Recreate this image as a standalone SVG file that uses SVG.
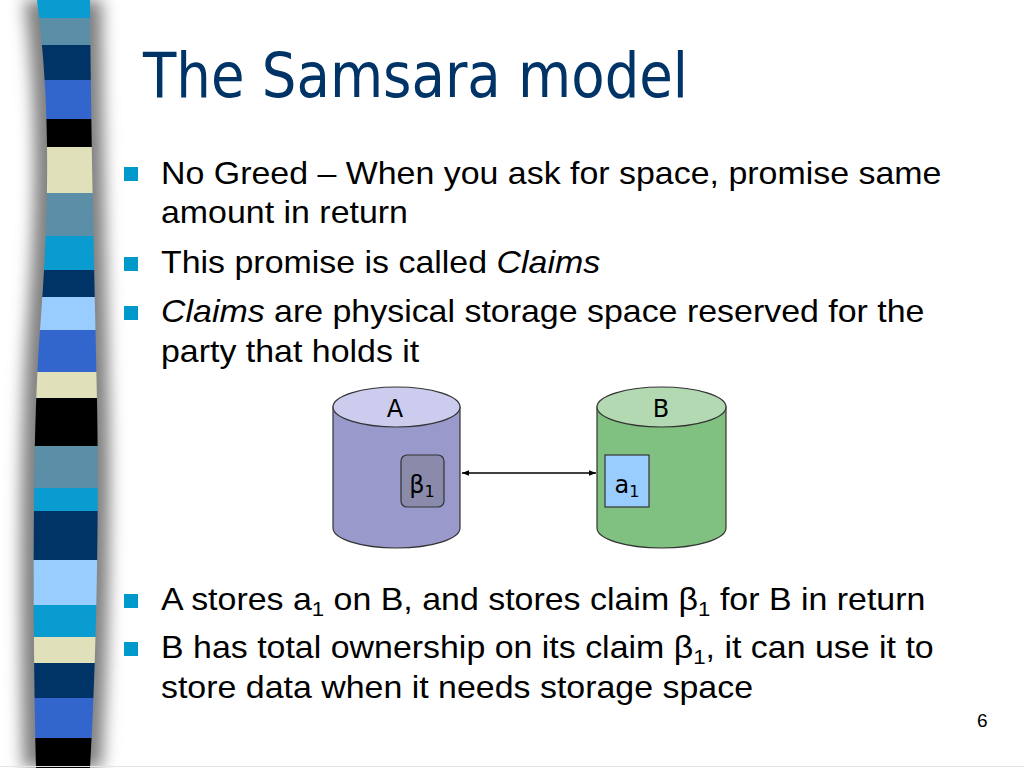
<svg xmlns="http://www.w3.org/2000/svg" width="1024" height="768" viewBox="0 0 1024 768">
<defs>
<style>
.body{font-family:"Liberation Sans",Arial,sans-serif;font-size:32px;fill:#000}
.sub{font-size:21px}
.lbl{font-family:"DejaVu Sans",Verdana,sans-serif;font-size:24px;fill:#000;text-anchor:middle}
.bul{fill:#0099cc}
.cyl{stroke:#333;stroke-width:1.2}
.conn{stroke:#000;stroke-width:1.5;fill:none}
</style>
<clipPath id="col">
<path d="M37,0 C50,100 50,200 40,330 C33,420 32,600 36,768 L90,768 C97,650 99,500 97,400 C95,300 91,150 90,0 Z"/>
</clipPath>
<filter id="sh" x="-1" y="-0.1" width="3" height="1.2">
<feGaussianBlur stdDeviation="8"/>
</filter>
<marker id="ah" viewBox="0 0 10 10" refX="10" refY="5" markerWidth="7" markerHeight="7" orient="auto-start-reverse" markerUnits="userSpaceOnUse">
<path d="M0,1 L10,5 L0,9 Z" fill="#000"/>
</marker>
</defs>
<rect width="1024" height="768" fill="#fff"/>
<g id="stripe">
<path d="M24,0 C37,100 37,200 27,330 C20,420 19,600 23,768 L102,768 C109,650 111,500 109,400 C107,300 103,150 102,0 Z" fill="#808080" filter="url(#sh)"/>
<g clip-path="url(#col)">
<rect x="0" y="0" width="130" height="18" fill="#0a9bd0"/>
<rect x="0" y="18" width="130" height="27" fill="#5b8fa8"/>
<rect x="0" y="45" width="130" height="35" fill="#003366"/>
<rect x="0" y="80" width="130" height="39" fill="#3366cc"/>
<rect x="0" y="119" width="130" height="28" fill="#000"/>
<rect x="0" y="147" width="130" height="46" fill="#e0e0bb"/>
<rect x="0" y="193" width="130" height="43" fill="#5b8fa8"/>
<rect x="0" y="236" width="130" height="34" fill="#0a9bd0"/>
<rect x="0" y="270" width="130" height="27" fill="#003366"/>
<rect x="0" y="297" width="130" height="33" fill="#99ccff"/>
<rect x="0" y="330" width="130" height="42" fill="#3366cc"/>
<rect x="0" y="372" width="130" height="26" fill="#e0e0bb"/>
<rect x="0" y="398" width="130" height="48" fill="#000"/>
<rect x="0" y="446" width="130" height="42" fill="#5b8fa8"/>
<rect x="0" y="488" width="130" height="23" fill="#0a9bd0"/>
<rect x="0" y="511" width="130" height="49" fill="#003366"/>
<rect x="0" y="560" width="130" height="45" fill="#99ccff"/>
<rect x="0" y="605" width="130" height="32" fill="#0a9bd0"/>
<rect x="0" y="637" width="130" height="26" fill="#e0e0bb"/>
<rect x="0" y="663" width="130" height="35" fill="#003366"/>
<rect x="0" y="698" width="130" height="40" fill="#3366cc"/>
<rect x="0" y="738" width="130" height="30" fill="#000"/>
</g>
<line x1="0" y1="766.5" x2="1024" y2="766.5" stroke="#e4e4e4" stroke-width="1"/>
</g>
<text x="143" y="97" font-family="DejaVu Sans, Verdana, sans-serif" font-size="63" fill="#003366" textLength="545" lengthAdjust="spacingAndGlyphs">The Samsara model</text>
<g id="bullets">
<rect class="bul" x="124" y="167" width="14" height="14"/>
<rect class="bul" x="124" y="257" width="14" height="14"/>
<rect class="bul" x="124" y="306" width="14" height="14"/>
<rect class="bul" x="124" y="594" width="14" height="14"/>
<rect class="bul" x="124" y="642" width="14" height="14"/>
</g>
<g id="bodytext" class="body" transform="matrix(1.06 0 0 1 -9.66 0)">
<text x="161" y="184">No Greed – When you ask for space, promise same</text>
<text x="161" y="223">amount in return</text>
<text x="161" y="273">This promise is called <tspan font-style="italic">Claims</tspan></text>
<text x="161" y="322"><tspan font-style="italic">Claims</tspan> are physical storage space reserved for the</text>
<text x="161" y="362">party that holds it</text>
<text x="161" y="610">A stores a<tspan class="sub" dy="6">1</tspan><tspan dy="-6"> on B, and stores claim β</tspan><tspan class="sub" dy="6">1</tspan><tspan dy="-6"> for B in return</tspan></text>
<text x="161" y="658">B has total ownership on its claim β<tspan class="sub" dy="6">1</tspan><tspan dy="-6">, it can use it to</tspan></text>
<text x="161" y="698">store data when it needs storage space</text>
</g>
<g id="cylA">
<path class="cyl" d="M333,407 L333,528 A63.5,20 0 0 0 460,528 L460,407 Z" fill="#9999cc"/>
<ellipse class="cyl" cx="396.5" cy="407" rx="63.5" ry="20" fill="#ccccee"/>
<text class="lbl" x="395" y="417">A</text>
</g>
<g id="cylB">
<path class="cyl" d="M597,407 L597,528 A64.5,20 0 0 0 726,528 L726,407 Z" fill="#80c080"/>
<ellipse class="cyl" cx="661.5" cy="407" rx="64.5" ry="20" fill="#b3d9b3"/>
<text class="lbl" x="661" y="417">B</text>
</g>
<g id="claimBeta">
<rect x="401" y="455" width="43" height="52" rx="6" fill="#8a8aab" stroke="#333" stroke-width="1.2"/>
<text class="lbl" x="422" y="493">β<tspan font-size="16" dy="4">1</tspan></text>
</g>
<g id="dataA1">
<rect x="605" y="455" width="44" height="52" fill="#99ccff" stroke="#333" stroke-width="1.2"/>
<text class="lbl" x="627" y="493">a<tspan font-size="16" dy="4">1</tspan></text>
</g>
<g id="connectors">
<line class="conn" x1="462" y1="473" x2="596" y2="473" marker-start="url(#ah)" marker-end="url(#ah)"/>
</g>
<text x="977" y="727" font-family="Liberation Sans, Arial, sans-serif" font-size="19" fill="#000">6</text>
</svg>
